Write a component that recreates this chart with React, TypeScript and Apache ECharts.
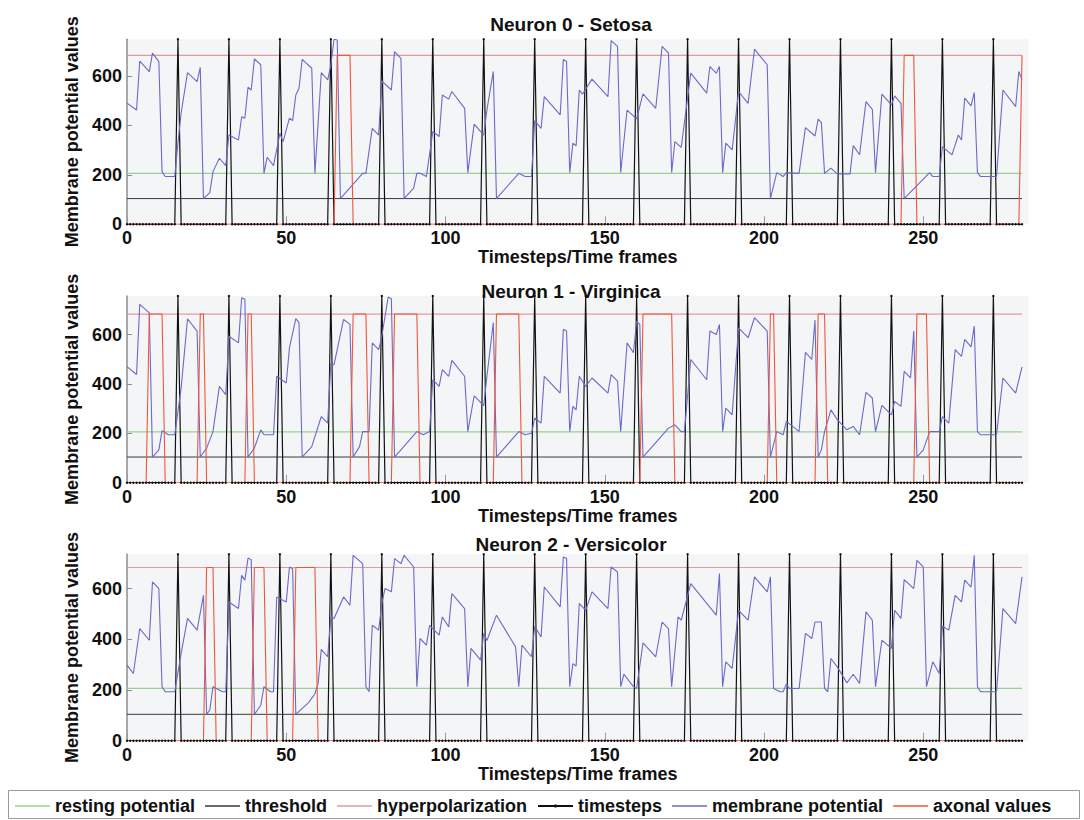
import React, { useEffect, useRef } from 'react';
import * as echarts from 'echarts';

// ---------------- data ----------------
const LAST_STEP = 281;
const X_MAX = 283;
const X_TICKS = [0, 50, 100, 150, 200, 250];
const Y_TICKS = [0, 200, 400, 600];
const TIMESTEP_SPIKES = [16, 32, 48, 64, 80, 96, 112, 128, 144, 160, 176, 192, 208, 224, 240, 256, 272];
const RESTING_POTENTIAL = 206;
const THRESHOLD = 104;
const HYPERPOLARIZATION = 683;
const NEURON_TITLES = ['Neuron 0 - Setosa', 'Neuron 1 - Virginica', 'Neuron 2 - Versicolor'];
const PANEL_Y_MAX = [748, 756, 735];
const LEGEND_NAMES = ['resting potential', 'threshold', 'hyperpolarization', 'timesteps', 'membrane potential', 'axonal values'];

const MEMBRANE_SETOSA = [
  [0, 490], [3, 462], [4, 660], [7, 617], [8, 692], [10, 658], [11, 213], [12, 193], [15, 193], [16, 330], [17, 450], [19, 613],
  [22, 577], [23, 634], [24, 104], [26, 128], [27, 213], [29, 267], [31, 237], [32, 361], [35, 341], [36, 435], [37, 429], [38, 554],
  [39, 543], [40, 669], [42, 645], [43, 206], [44, 271], [46, 237], [48, 368], [49, 334], [51, 429], [52, 419], [53, 523], [54, 550],
  [55, 667], [58, 631], [59, 206], [61, 613], [63, 584], [64, 644], [65, 748], [66, 745], [67, 104], [74, 206], [75, 206], [77, 388],
  [79, 361], [80, 580], [83, 543], [84, 698], [86, 671], [87, 104], [90, 146], [91, 206], [92, 206], [94, 193], [96, 375], [98, 355],
  [99, 523], [101, 506], [102, 537], [106, 469], [107, 209], [109, 405], [112, 361], [113, 463], [115, 618], [116, 104], [123, 206],
  [125, 193], [127, 193], [128, 419], [130, 388], [131, 516], [136, 442], [137, 667], [138, 658], [139, 209], [140, 328], [141, 317],
  [142, 543], [143, 526], [146, 587], [151, 516], [152, 743], [154, 719], [155, 209], [157, 462], [160, 426], [162, 527], [166, 469],
  [168, 719], [170, 692], [171, 209], [172, 334], [174, 311], [177, 611], [182, 530], [183, 638], [185, 611], [186, 638], [187, 209],
  [188, 328], [190, 301], [192, 537], [195, 489], [197, 708], [201, 645], [202, 104], [204, 209], [206, 193], [207, 209], [211, 206],
  [213, 391], [216, 357], [217, 425], [218, 411], [219, 206], [221, 227], [223, 204], [227, 204], [228, 318], [230, 281], [232, 496],
  [234, 465], [235, 209], [237, 526], [240, 483], [241, 519], [243, 489], [244, 104], [252, 209], [253, 193], [255, 193], [256, 314],
  [259, 281], [261, 361], [262, 341], [263, 510], [265, 479], [266, 533], [267, 209], [268, 193], [273, 193], [275, 543], [279, 476],
  [280, 618], [281, 584],
];

const MEMBRANE_VIRGINICA = [
  [0, 470], [3, 438], [4, 722], [7, 688], [8, 104], [10, 133], [11, 211], [13, 194], [15, 194], [17, 383], [19, 664], [22, 614],
  [23, 104], [25, 140], [27, 207], [29, 390], [31, 356], [32, 593], [35, 566], [36, 749], [37, 743], [38, 104], [40, 140], [42, 214],
  [43, 194], [46, 194], [47, 431], [50, 404], [51, 546], [53, 664], [54, 648], [55, 104], [58, 146], [61, 268], [63, 241], [64, 485],
  [65, 478], [68, 661], [70, 641], [71, 104], [73, 146], [74, 207], [76, 207], [77, 566], [79, 539], [80, 593], [82, 752], [83, 745],
  [84, 104], [91, 207], [93, 194], [95, 207], [96, 417], [98, 390], [99, 458], [101, 431], [102, 495], [106, 431], [107, 207],
  [109, 352], [112, 312], [113, 431], [115, 648], [116, 104], [123, 207], [125, 194], [127, 200], [128, 262], [130, 241], [131, 431],
  [136, 363], [137, 621], [138, 614], [139, 207], [140, 309], [141, 295], [142, 431], [144, 390], [146, 424], [151, 363], [152, 438],
  [154, 411], [155, 207], [157, 566], [159, 526], [160, 654], [161, 640], [162, 104], [170, 221], [172, 234], [174, 207], [175, 207],
  [177, 499], [182, 417], [183, 614], [185, 600], [186, 641], [187, 207], [188, 302], [190, 275], [192, 627], [195, 587], [197, 668],
  [201, 614], [202, 104], [204, 207], [206, 194], [207, 248], [209, 228], [211, 207], [213, 528], [215, 499], [216, 659], [217, 104],
  [218, 133], [219, 207], [221, 295], [223, 255], [226, 214], [228, 228], [230, 194], [232, 366], [234, 343], [235, 207], [237, 313],
  [240, 275], [241, 329], [243, 309], [244, 451], [246, 424], [247, 614], [248, 104], [250, 133], [252, 207], [255, 207], [256, 268],
  [258, 241], [260, 539], [262, 512], [263, 580], [265, 550], [266, 634], [267, 207], [268, 194], [273, 194], [275, 424], [279, 363],
  [281, 469],
];

const MEMBRANE_VERSICOLOR = [
  [0, 298], [2, 265], [4, 442], [7, 396], [8, 626], [10, 600], [11, 213], [12, 193], [15, 193], [17, 344], [19, 482], [22, 436],
  [24, 573], [25, 104], [26, 121], [27, 213], [30, 193], [31, 193], [32, 547], [35, 521], [36, 652], [37, 633], [38, 720], [39, 714],
  [40, 104], [42, 140], [43, 213], [45, 193], [46, 193], [47, 567], [50, 547], [51, 685], [52, 678], [53, 104], [57, 150], [59, 185],
  [60, 226], [61, 360], [63, 331], [64, 488], [65, 482], [68, 567], [70, 534], [71, 731], [74, 698], [75, 213], [76, 193], [77, 455],
  [79, 436], [80, 541], [81, 600], [83, 587], [84, 718], [86, 698], [87, 731], [90, 685], [91, 213], [92, 403], [94, 377], [95, 455],
  [98, 416], [99, 488], [101, 449], [102, 580], [106, 521], [107, 213], [108, 364], [111, 318], [112, 423], [113, 395], [116, 495],
  [122, 370], [123, 213], [124, 377], [127, 331], [128, 451], [130, 409], [131, 606], [136, 528], [137, 724], [138, 718], [139, 213],
  [140, 304], [141, 294], [142, 541], [144, 514], [146, 587], [151, 521], [152, 685], [154, 665], [155, 213], [156, 262], [159, 213],
  [160, 206], [162, 386], [166, 331], [168, 468], [170, 442], [171, 213], [173, 488], [174, 475], [177, 619], [185, 495], [186, 659],
  [187, 213], [188, 311], [190, 285], [192, 514], [195, 475], [197, 646], [201, 587], [202, 646], [203, 206], [205, 193], [206, 193],
  [207, 223], [208, 206], [211, 206], [213, 423], [215, 403], [216, 468], [218, 468], [219, 206], [220, 193], [221, 324], [223, 291],
  [226, 228], [228, 262], [230, 226], [232, 508], [234, 475], [235, 213], [237, 396], [240, 364], [241, 514], [243, 482], [244, 635],
  [247, 600], [248, 711], [250, 685], [251, 213], [253, 311], [255, 265], [256, 451], [258, 436], [260, 573], [262, 547], [263, 633],
  [265, 606], [266, 731], [267, 213], [268, 193], [273, 193], [275, 521], [279, 462], [281, 646],
];

// timestep ranges where the axonal value sits at the hyperpolarization level
const AXONAL_ON_SETOSA = [[66, 70], [244, 247], [281, 281]];
const AXONAL_ON_VIRGINICA = [[7, 11], [23, 24], [38, 39], [71, 75], [84, 91], [116, 123], [162, 171], [202, 203], [217, 219], [248, 251]];
const AXONAL_ON_VERSICOLOR = [[25, 27], [40, 43], [53, 59]];

const MEMBRANE = [MEMBRANE_SETOSA, MEMBRANE_VIRGINICA, MEMBRANE_VERSICOLOR];
const AXONAL_ON = [AXONAL_ON_SETOSA, AXONAL_ON_VIRGINICA, AXONAL_ON_VERSICOLOR];

// ---------------- layout / style ----------------
const GRID_LEFT = 127;
const GRID_WIDTH = 901.4;
const GRID_TOPS = [39.3, 296, 554.3];
const GRID_HEIGHTS = [185, 186.7, 186.4];
const TITLE_TOPS = [15, 281.5, 534.5];
const X_NAME_GAPS = [23, 21, 22];
const FONT = 'Liberation Sans, Arial, Helvetica, sans-serif';
const COLORS = {
  resting: '#9ccf94',
  threshold: '#3a3a3a',
  hyper: '#e39a9f',
  steps: '#111111',
  membrane: '#6a6ac8',
  axonal: '#f2553a',
};
const LINE_ICON = 'path://M0,0H35V1.3H0Z';

function buildTimesteps(height: number) {
  const spikes = new Set(TIMESTEP_SPIKES);
  const pts: number[][] = [];
  for (let t = 0; t <= LAST_STEP; t++) pts.push([t, spikes.has(t) ? height : 0]);
  return pts;
}

function buildAxonal(intervals: number[][]) {
  const pts: number[][] = [[0, 0]];
  for (const [s, e] of intervals) {
    if (s - 1 > pts[pts.length - 1][0]) pts.push([s - 1, 0]);
    pts.push([s, HYPERPOLARIZATION]);
    if (e > s) pts.push([e, HYPERPOLARIZATION]);
    if (e + 1 <= LAST_STEP) pts.push([e + 1, 0]);
  }
  if (pts[pts.length - 1][0] < LAST_STEP) pts.push([LAST_STEP, 0]);
  return pts;
}

function levelLine(v: number) {
  return [[0, v], [LAST_STEP, v]];
}

function buildOption() {
  const boldText = { fontFamily: FONT, fontWeight: 'bold' as const, fontSize: 18, color: '#111' };
  const grid = GRID_TOPS.map((top, i) => ({
    left: GRID_LEFT,
    top,
    width: GRID_WIDTH,
    height: GRID_HEIGHTS[i],
    show: true,
    backgroundColor: '#f3f5f7',
    borderWidth: 0,
    containLabel: false,
  }));
  const xAxis = GRID_TOPS.map((_, i) => ({
    type: 'value',
    gridIndex: i,
    min: 0,
    max: X_MAX,
    interval: 50,
    name: 'Timesteps/Time frames',
    nameLocation: 'middle',
    nameGap: X_NAME_GAPS[i],
    nameTextStyle: boldText,
    axisLine: { show: false },
    axisTick: { show: true, inside: true, length: 8, customValues: X_TICKS, lineStyle: { color: '#9a9a9a', width: 1 } },
    axisLabel: {
      ...boldText,
      margin: 5,
      customValues: X_TICKS,
      formatter: (v: number) => (v % 50 === 0 ? String(v) : ''),
    },
    splitLine: { show: false },
  }));
  const yAxis = GRID_TOPS.map((_, i) => ({
    type: 'value',
    gridIndex: i,
    min: 0,
    max: PANEL_Y_MAX[i],
    interval: 200,
    name: 'Membrane potential values',
    nameLocation: 'middle',
    nameGap: 40,
    nameTextStyle: boldText,
    axisLine: { show: true, lineStyle: { color: '#8c8c8c', width: 1.5 } },
    axisTick: { show: true, inside: true, length: 5, customValues: Y_TICKS, lineStyle: { color: '#8c8c8c' } },
    axisLabel: {
      ...boldText,
      margin: 5,
      customValues: Y_TICKS,
      formatter: (v: number) => (v % 200 === 0 ? String(v) : ''),
    },
    splitLine: { show: false },
  }));

  const series: any[] = [];
  for (let i = 0; i < 3; i++) {
    const base = { type: 'line', xAxisIndex: i, yAxisIndex: i, symbol: 'none', silent: true };
    series.push({ ...base, name: LEGEND_NAMES[0], data: levelLine(RESTING_POTENTIAL), lineStyle: { color: COLORS.resting, width: 1.2 }, itemStyle: { color: COLORS.resting } });
    series.push({ ...base, name: LEGEND_NAMES[1], data: levelLine(THRESHOLD), lineStyle: { color: COLORS.threshold, width: 1 }, itemStyle: { color: COLORS.threshold } });
    series.push({ ...base, name: LEGEND_NAMES[2], data: levelLine(HYPERPOLARIZATION), lineStyle: { color: COLORS.hyper, width: 1.2 }, itemStyle: { color: COLORS.hyper } });
    series.push({
      ...base,
      name: LEGEND_NAMES[3],
      data: buildTimesteps(PANEL_Y_MAX[i]),
      symbol: 'circle',
      symbolSize: 2.4,
      showSymbol: true,
      lineStyle: { color: COLORS.steps, width: 1.2 },
      itemStyle: { color: COLORS.steps },
    });
    series.push({ ...base, name: LEGEND_NAMES[4], data: MEMBRANE[i], lineStyle: { color: COLORS.membrane, width: 1.1 }, itemStyle: { color: COLORS.membrane } });
    series.push({ ...base, name: LEGEND_NAMES[5], data: buildAxonal(AXONAL_ON[i]), lineStyle: { color: COLORS.axonal, width: 1.1 }, itemStyle: { color: COLORS.axonal } });
  }

  return {
    animation: false,
    backgroundColor: '#ffffff',
    title: NEURON_TITLES.map((text, i) => ({
      text,
      left: 571,
      top: TITLE_TOPS[i],
      textAlign: 'center',
      padding: 0,
      textStyle: { ...boldText, fontSize: 19 },
    })),
    grid,
    xAxis,
    yAxis,
    legend: {
      data: LEGEND_NAMES.map((name) => (name === 'timesteps' ? { name } : { name, icon: LINE_ICON })),
      left: 8,
      top: 792,
      itemWidth: 35,
      itemHeight: 4,
      itemGap: 10,
      padding: [5, 7, 5, 7],
      selectedMode: false,
      textStyle: { fontFamily: FONT, fontWeight: 'bold', fontSize: 18, color: '#111' },
    },
    graphic: [
      {
        type: 'rect',
        shape: { x: 8.5, y: 790.5, width: 1071, height: 28 },
        style: { fill: '#ffffff', stroke: '#9a9a9a', lineWidth: 1 },
        z: 0,
        silent: true,
      },
    ],
    series,
  };
}

export default function App() {
  const ref = useRef<HTMLDivElement>(null);
  useEffect(() => {
    if (!ref.current) return;
    const chart = echarts.init(ref.current, undefined, { renderer: 'svg' });
    chart.setOption(buildOption() as any);
    return () => chart.dispose();
  }, []);
  return (
    <div
      ref={ref}
      style={{ position: 'fixed', left: 0, top: 0, width: 1084, height: 820, background: '#fff' }}
    />
  );
}
